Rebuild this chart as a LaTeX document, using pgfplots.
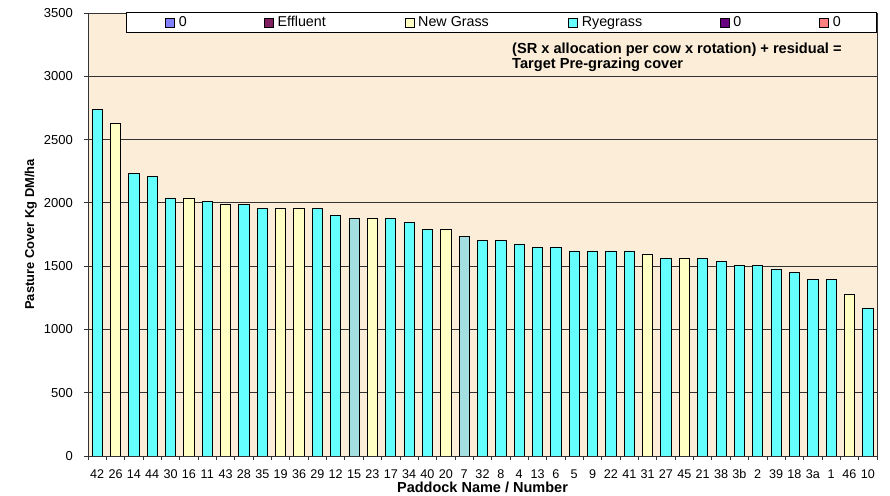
\documentclass[border=0pt]{standalone}
\usepackage{pgfplots}
\pgfplotsset{compat=1.18}
\usepackage{fontspec}
\setmainfont{Liberation Sans}
\definecolor{rye}{HTML}{66FFFF}
\definecolor{newg}{HTML}{FFFFC4}
\definecolor{tealb}{HTML}{A3DEE0}
\definecolor{parch}{HTML}{FBEDD8}
\definecolor{lblue}{HTML}{8080FF}
\definecolor{effl}{HTML}{802060}
\definecolor{purp}{HTML}{660080}
\definecolor{pinkc}{HTML}{FF8080}
\definecolor{axc}{HTML}{333333}
\pgfplotsset{sqlegend/.style={legend image code/.code={\draw[##1] (0bp,-4.5bp) rectangle (9bp,4.5bp);}}}
\begin{document}
\begin{tikzpicture}
\useasboundingbox (0,0) rectangle (890bp,496bp);
\begin{axis}[
  at={(88bp,40bp)}, anchor=south west,
  scale only axis, width=789bp, height=443bp,
  xmin=-0.5, xmax=42.5, ymin=0, ymax=3500,
  ybar, bar width=0.56,
  axis background/.style={fill=parch},
  axis line style={draw=axc, line width=0.8bp},
  ytick={0,500,...,3500},
  ymajorgrids, grid style={draw=axc, line width=0.8bp},
  xtick={0,...,42},
  xticklabels={42,26,14,44,30,16,11,43,28,35,19,36,29,12,15,23,17,34,40,20,7,32,8,4,13,6,5,9,22,41,31,27,45,21,38,3b,2,39,18,3a,1,46,10},
  xtick style={draw=none},
  extra x ticks={-0.5,0.5,...,42.5},
  extra x tick labels={},
  extra x tick style={xtick style={draw=axc, line width=0.8bp}},
  ytick style={draw=axc, line width=0.8bp},
  tick align=outside, tick pos=left, major tick length=4bp,
  /pgf/number format/1000 sep={},
  /pgf/number format/assume math mode=true,
  yticklabel style={font=\fontsize{13bp}{15bp}\selectfont, inner sep=0pt, anchor=east, xshift=-11bp},
  xticklabel style={font=\fontsize{12.6bp}{14bp}\selectfont, inner sep=0pt, anchor=base, yshift=-18.7bp},
  ylabel={Pasture Cover Kg DM/ha},
  ylabel style={font=\bfseries\fontsize{12.9bp}{14bp}\selectfont, at={(axis description cs:-0.0684,0.5)}, anchor=base, inner sep=0pt},
  xlabel={Paddock Name / Number},
  xlabel style={font=\bfseries\fontsize{14.5bp}{16bp}\selectfont, at={(axis description cs:0.5,-0.0819)}, anchor=base, inner sep=0pt},
  legend columns=6,
  legend style={at={(axis description cs:0.04816,1.00226)}, anchor=north west, draw=black, line width=0.8bp, fill=white,
    inner xsep=39bp, inner ysep=3.25bp, font=\fontsize{14.3bp}{16bp}\selectfont,
    nodes={inner sep=0pt, text height=10.5bp, text depth=3bp, anchor=west}, /tikz/column sep=0pt},
]
% Ryegrass bars
\addplot[forget plot, bar shift=0pt, fill=rye, draw=black, line width=0.8bp] coordinates {
(0,2740) (2,2234) (3,2207) (4,2039) (6,2012) (8,1984) (9,1957) (12,1957) (13,1902)
(16,1874) (17,1845) (18,1788) (21,1705) (22,1705) (23,1675) (24,1647) (25,1647)
(26,1620) (27,1620) (28,1620) (29,1620) (31,1562) (33,1562) (34,1534) (35,1507)
(36,1507) (37,1478) (38,1451) (39,1393) (40,1393) (42,1170)};
% New Grass bars
\addplot[forget plot, bar shift=0pt, fill=newg, draw=black, line width=0.8bp] coordinates {
(1,2629) (5,2039) (7,1984) (10,1957) (11,1957) (15,1874) (19,1788) (30,1591) (32,1562) (41,1280)};
% other bars
\addplot[forget plot, bar shift=0pt, fill=tealb, draw=black, line width=0.8bp] coordinates {
(14,1874) (20,1733)};
\addlegendimage{sqlegend, fill=lblue, draw=black, line width=0.6bp}
\addlegendentry{\makebox[89bp][l]{\hspace{4bp}0}}
\addlegendimage{sqlegend, fill=effl, draw=black, line width=0.6bp}
\addlegendentry{\makebox[131bp][l]{\hspace{4bp}Effluent}}
\addlegendimage{sqlegend, fill=newg, draw=black, line width=0.6bp}
\addlegendentry{\makebox[154bp][l]{\hspace{4bp}New Grass}}
\addlegendimage{sqlegend, fill=rye, draw=black, line width=0.6bp}
\addlegendentry{\makebox[142bp][l]{\hspace{4bp}Ryegrass}}
\addlegendimage{sqlegend, fill=purp, draw=black, line width=0.6bp}
\addlegendentry{\makebox[90bp][l]{\hspace{4bp}0}}
\addlegendimage{sqlegend, fill=pinkc, draw=black, line width=0.6bp}
\addlegendentry{\makebox[8bp][l]{\hspace{4bp}0}}
\node[anchor=base west, inner sep=0pt, font=\bfseries\fontsize{14.6bp}{16bp}\selectfont] at (axis description cs:0.5374,0.9075) {(SR x allocation per cow x rotation) + residual =};
\node[anchor=base west, inner sep=0pt, font=\bfseries\fontsize{14.6bp}{16bp}\selectfont] at (axis description cs:0.5374,0.8745) {Target Pre-grazing cover};
\end{axis}
\end{tikzpicture}
\end{document}
